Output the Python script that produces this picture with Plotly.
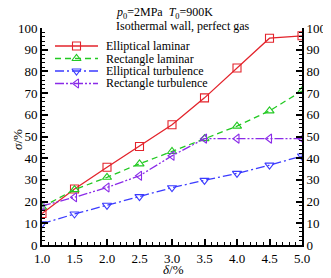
import plotly.graph_objects as go

delta = [1.0, 1.5, 2.0, 2.5, 3.0, 3.5, 4.0, 4.5, 5.0]
elliptical_laminar = [14.5, 25.8, 35.8, 45.4, 55.4, 67.8, 81.6, 95.3, 96.4]
rectangle_laminar = [17.5, 25.5, 31.2, 37.4, 43.1, 49.0, 54.8, 61.8, 71.0]
elliptical_turbulence = [9.8, 14.3, 18.3, 22.3, 26.4, 29.8, 33.0, 36.8, 41.0]
rectangle_turbulence = [18.0, 22.0, 26.5, 31.9, 41.1, 49.0, 49.0, 49.0, 49.0]

names = ["Elliptical laminar", "Rectangle laminar", "Elliptical turbulence", "Rectangle turbulence"]
series = [elliptical_laminar, rectangle_laminar, elliptical_turbulence, rectangle_turbulence]
colors = ["#e3232b", "#22c922", "#3b3bff", "#8a2be8"]
symbols = ["square", "triangle-up", "triangle-down", "triangle-left"]
dashes = ["solid", "6px,4px", "9px,3px,2px,3px", "9px,2px,2px,2px,2px,2px"]

FONT = "Liberation Serif"
OFF = 8  # page body margin around the figure
W, H = 331 - OFF, 278 - OFF
# plot area in page pixels: x 42..302, y 28..245
L, T = 42 - OFF, 28 - OFF
R = W - (302 - OFF)
B = H - (245 - OFF)
PW, PH = W - L - R, H - T - B


def px(x):
    return (x - OFF - L) / PW


def py(y):
    return (H - B - (y - OFF)) / PH


# manual legend geometry (page pixels)
legend_rows_px = [46, 58.5, 71, 83.5]
legend_line_px = (55, 98)
legend_text_px = 104

fig = go.Figure()
for name, vals, c, s, d in zip(names, series, colors, symbols, dashes):
    fig.add_trace(go.Scatter(
        x=delta, y=vals, name=name, mode="lines+markers",
        line=dict(color=c, width=1.3, dash=d),
        marker=dict(symbol=s, size=8, color="rgba(255,255,255,0)", line=dict(width=1.1, color=c)),
        showlegend=False,
    ))

# legend glyphs on a hidden overlay axis pair in paper fractions
for name, c, s, d, ry in zip(names, colors, symbols, dashes, legend_rows_px):
    x0, x1 = px(legend_line_px[0]), px(legend_line_px[1])
    fig.add_trace(go.Scatter(
        x=[x0, x1], y=[py(ry), py(ry)], mode="lines", xaxis="x2", yaxis="y3",
        line=dict(color=c, width=1.3, dash=d), showlegend=False, hoverinfo="skip",
    ))
    fig.add_trace(go.Scatter(
        x=[(x0 + x1) / 2], y=[py(ry)], mode="markers", xaxis="x2", yaxis="y3",
        marker=dict(symbol=s, size=8, color="rgba(255,255,255,0)", line=dict(width=1.1, color=c)),
        showlegend=False, hoverinfo="skip",
    ))

# dummy trace to activate right axis
fig.add_trace(go.Scatter(x=[None], y=[None], yaxis="y2", showlegend=False, hoverinfo="skip"))

axis_common = dict(
    showgrid=False, zeroline=False, showline=True, linecolor="black", linewidth=2,
    ticks="inside", ticklen=6, tickwidth=1.5, tickcolor="black", automargin=False,
    tickfont=dict(family=FONT, size=13, color="black"),
)
minor_y = dict(dtick=2, ticks="inside", ticklen=3, tickcolor="black", tickwidth=1)

annotations = [
    dict(text="<i>p</i><sub>0</sub>=2MPa  <i>T</i><sub>0</sub>=900K", x=px(114), y=py(13.5),
         xanchor="left", yanchor="middle"),
    dict(text="Isothermal wall, perfect gas", x=px(114), y=py(26), xanchor="left", yanchor="middle"),
    dict(text="<i>δ</i>/%", x=px(173), y=py(269), xanchor="center", yanchor="middle"),
    dict(text="<i>σ</i>/%", x=px(17), y=py(140), xanchor="center", yanchor="middle", textangle=-90),
]
for name, ry in zip(names, legend_rows_px):
    annotations.append(dict(text=name, x=px(legend_text_px), y=py(ry), xanchor="left", yanchor="middle"))
for a in annotations:
    a.update(xref="paper", yref="paper", showarrow=False,
             font=dict(family=FONT, size=13 if a["text"] in ("<i>δ</i>/%", "<i>σ</i>/%") else 12, color="black"))

fig.update_layout(
    template="none",
    width=W, height=H,
    margin=dict(l=L, r=R, t=T, b=B),
    paper_bgcolor="white", plot_bgcolor="white",
    showlegend=False,
    xaxis=dict(range=[1, 5], dtick=0.5, tick0=1, tickformat=".1f",
               minor=dict(dtick=0.1, ticks="inside", ticklen=3, tickcolor="black", tickwidth=1),
               **axis_common),
    yaxis=dict(range=[0, 100], dtick=10, minor=minor_y, **axis_common),
    yaxis2=dict(range=[0, 100], dtick=10, overlaying="y", side="right", minor=minor_y, **axis_common),
    xaxis2=dict(range=[0, 1], overlaying="x", visible=False, fixedrange=True),
    yaxis3=dict(range=[0, 1], overlaying="y", visible=False, fixedrange=True),
    annotations=annotations,
)

fig.write_html("out.html")
